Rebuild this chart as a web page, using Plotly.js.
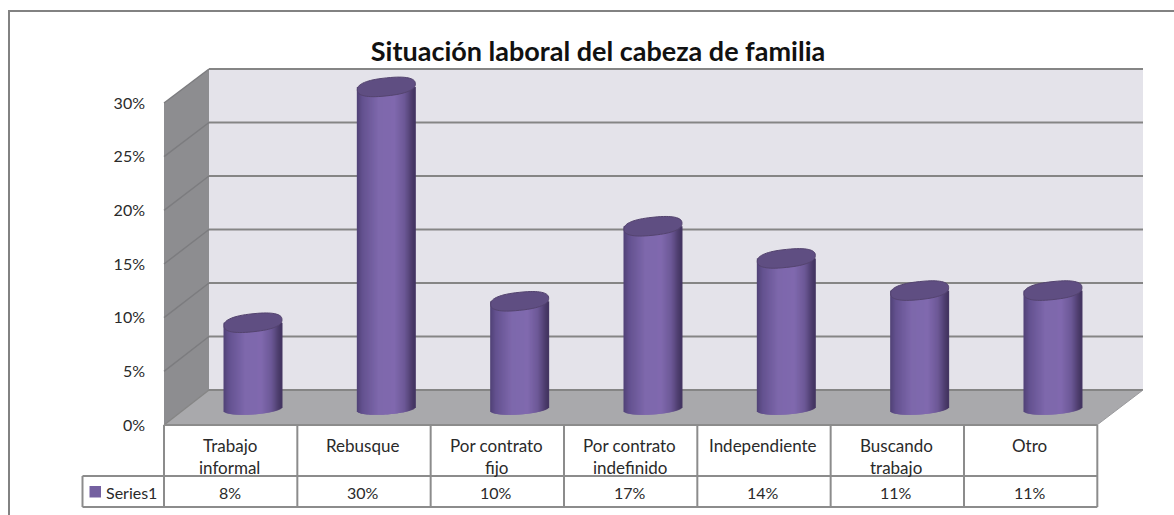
<!DOCTYPE html>
<html>
<head>
<meta charset="utf-8">
<script src="https://cdn.plot.ly/plotly-3.0.1.min.js"></script>
<style>html,body{margin:0;padding:0;background:#fff;overflow:hidden}</style>
</head>
<body>
<div id="chart" style="width:1174px;height:515px"></div>
<script>
const categories = ["Trabajo\ninformal", "Rebusque", "Por contrato\nfijo", "Por contrato\nindefinido", "Independiente", "Buscando\ntrabajo", "Otro"];
const values = [8, 30, 10, 17, 14, 11, 11];
const valueLabels = ["8%", "30%", "10%", "17%", "14%", "11%", "11%"];
const tickValues = [0, 5, 10, 15, 20, 25, 30];
const tickLabels = ["0%", "5%", "10%", "15%", "20%", "25%", "30%"];
const seriesName = "Series1";
const chartTitle = "Situación laboral del cabeza de familia";

const W = 1174, H = 515;
const FONT = "Lato, 'Open Sans', sans-serif";
const px = p => p / W, py = p => 1 - p / H;

// plot window in pixels
const L = 164, R = 1143, T = 40, B = 440;
// category centres on the mid depth plane
const c0 = 253, cw = 133.33;
const xv = p => (p - c0) / cw;
// value scales: mid plane (cylinders) and front edge (axis labels)
const y0 = 408.5, ys = 10.72, fy0 = 425, fs = 10.733;
const yv = p => (y0 - p) / ys;
const frontPx = v => fy0 - v * fs;
const backPx = v => 390 - v * 10.7;

const GRID = "#858585";
const shapes = [];
const poly = (pts, fill) => shapes.push({
  type: "path", xref: "paper", yref: "paper", layer: "below",
  path: pts.map((q, i) => (i ? "L" : "M") + px(q[0]) + "," + py(q[1])).join(" ") + " Z",
  fillcolor: fill, line: {width: 0}
});
const seg = (x1, y1, x2, y2, color, w, layer) => shapes.push({
  type: "line", xref: "paper", yref: "paper", layer: layer || "below",
  x0: px(x1), y0: py(y1), x1: px(x2), y1: py(y2),
  line: {color: color, width: w}
});

// walls and floor
poly([[209, 69], [1143, 69], [1143, 390], [209, 390]], "#e4e3ea");
poly([[164, 425], [164, 103], [209, 69], [209, 390]], "#8d8d90");
poly([[164, 425], [209, 390], [1143, 390], [1097, 425]], "#a9a9ac");
tickValues.forEach(v => {
  seg(209, backPx(v), 1143, backPx(v), GRID, 2);
  seg(164, frontPx(v), 209, backPx(v), v === 0 ? GRID : "#7c7c7f", 1.5);
});
seg(1097, 425, 1143, 390, "#9a9a9d", 1);

// outer frame (open on the right and at the bottom)
shapes.push({type: "path", xref: "paper", yref: "paper", layer: "below",
  path: `M${px(9)},${py(515)} L${px(9)},${py(11)} L${px(1174)},${py(11)}`,
  line: {color: "#828282", width: 2}});

// data table
const rowA = 425, rowB = 476, rowC = 507, tabL = 82.5;
const colX = i => L + i * cw;
seg(L, rowA, colX(7), rowA, "#8c8c8c", 2);
seg(tabL, rowB, colX(7), rowB, "#8c8c8c", 2);
seg(tabL, rowC, colX(7), rowC, "#8c8c8c", 2);
seg(tabL, rowB, tabL, rowC, "#8c8c8c", 2);
for (let i = 0; i <= 7; i++) seg(colX(i), rowA, colX(i), rowC, "#8c8c8c", 2);

// legend key in the table
poly([[89.5, 486], [101, 486], [101, 497.5], [89.5, 497.5]], "#7460a0");

const annotations = [];
const txt = (x, y, text, size, anchor) => annotations.push({
  xref: "paper", yref: "paper", x: px(x), y: py(y), text: text,
  xanchor: anchor || "center", yanchor: "middle", showarrow: false,
  font: {family: FONT, size: size, color: "#2a2a2a"}
});
categories.forEach((c, i) => {
  c.split("\n").forEach((line, j) => txt(colX(i) + cw / 2 - 1, 445 + j * 22, line, 17));
  txt(colX(i) + cw / 2 - 1, 492, valueLabels[i], 16);
});
txt(104, 492, seriesName, 16, "left");

// cylinders: vertical strips, each reading the value array
const halfW = 29, stripPx = 1, strips = 2 * halfW / stripPx;
const lerp = (a, b, t) => Math.round(a + (b - a) * t);
const shade = u => {
  const stops = [[-1, [80, 66, 118]], [-0.8, [100, 82, 144]], [-0.25, [126, 104, 172]], [0.3, [128, 105, 174]],
                 [0.65, [108, 88, 150]], [0.9, [76, 60, 108]], [1, [66, 52, 96]]];
  for (let i = 1; i < stops.length; i++) {
    if (u <= stops[i][0]) {
      const t = (u - stops[i - 1][0]) / (stops[i][0] - stops[i - 1][0]);
      const a = stops[i - 1][1], b = stops[i][1];
      return `rgb(${lerp(a[0], b[0], t)},${lerp(a[1], b[1], t)},${lerp(a[2], b[2], t)})`;
    }
  }
  return "rgb(66,52,96)";
};
const baseCy = 409, baseB = 5.5, baseTilt = 2;
const traces = [];
for (let k = 0; k < strips; k++) {
  const off = -halfW + (k + 0.5) * stripPx;
  const u = off / halfW;
  const rim = baseCy + baseB * Math.sqrt(Math.max(0, 1 - u * u)) - baseTilt * u;
  const bv = yv(rim);
  traces.push({
    type: "bar", xaxis: "x", yaxis: "y",
    x: values.map((_, i) => i + off / cw),
    y: values.map(v => v - bv),
    base: values.map(() => bv),
    width: (stripPx + 1) / cw,
    marker: {color: shade(u), line: {width: 0}},
    hoverinfo: "skip", showlegend: false
  });
}

// top caps: fuller, rounder ellipses, tilted up to the right
const capB = 9, capTilt = 3, capPow = 0.82;
const spow = (c, p) => Math.sign(c) * Math.pow(Math.abs(c), p);
values.forEach((v, i) => {
  const cy = y0 - v * ys, cx = c0 + i * cw, pts = [];
  for (let t = 0; t < 64; t++) {
    const a = t / 64 * 2 * Math.PI;
    const ca = spow(Math.cos(a), capPow), sa = spow(Math.sin(a), capPow);
    const xp = cx + halfW * ca;
    const yp = cy + capB * sa - capTilt * ca;
    pts.push((t ? "L" : "M") + xv(xp) + "," + yv(yp));
  }
  shapes.push({type: "path", xref: "x", yref: "y", layer: "above",
    path: pts.join(" ") + " Z", fillcolor: "#5f4e82", line: {color: "#54446f", width: 1}});
});

// invisible trace holding the front value axis
traces.push({type: "scatter", mode: "none", x: [xv(L)], y: [0], xaxis: "x", yaxis: "y2",
  hoverinfo: "skip", showlegend: false});

const layout = {
  width: W, height: H,
  margin: {l: 0, r: 0, t: 0, b: 0},
  paper_bgcolor: "#ffffff", plot_bgcolor: "rgba(0,0,0,0)",
  barmode: "overlay", showlegend: false,
  title: {text: "<b>" + chartTitle + "</b>", x: 598 / W, xanchor: "center", xref: "paper",
          y: py(52), yanchor: "middle", yref: "paper",
          font: {family: FONT, size: 27, color: "#111111"}},
  xaxis: {domain: [px(L), px(R)], range: [xv(L), xv(R)], visible: false, fixedrange: true},
  yaxis: {domain: [py(B), py(T)], range: [yv(B), yv(T)], visible: false, fixedrange: true},
  yaxis2: {domain: [py(B), py(T)], range: [(fy0 - B) / fs, (fy0 - T) / fs], overlaying: "y", side: "left",
           anchor: "x", tickmode: "array", tickvals: tickValues, ticktext: tickLabels,
           showgrid: false, zeroline: false, showline: false, ticks: "", ticklabelstandoff: 18,
           tickfont: {family: FONT, size: 16, color: "#2a2a2a"}, fixedrange: true},
  shapes: shapes, annotations: annotations
};
Plotly.newPlot("chart", traces, layout, {displayModeBar: false, staticPlot: true});
</script>
</body>
</html>
